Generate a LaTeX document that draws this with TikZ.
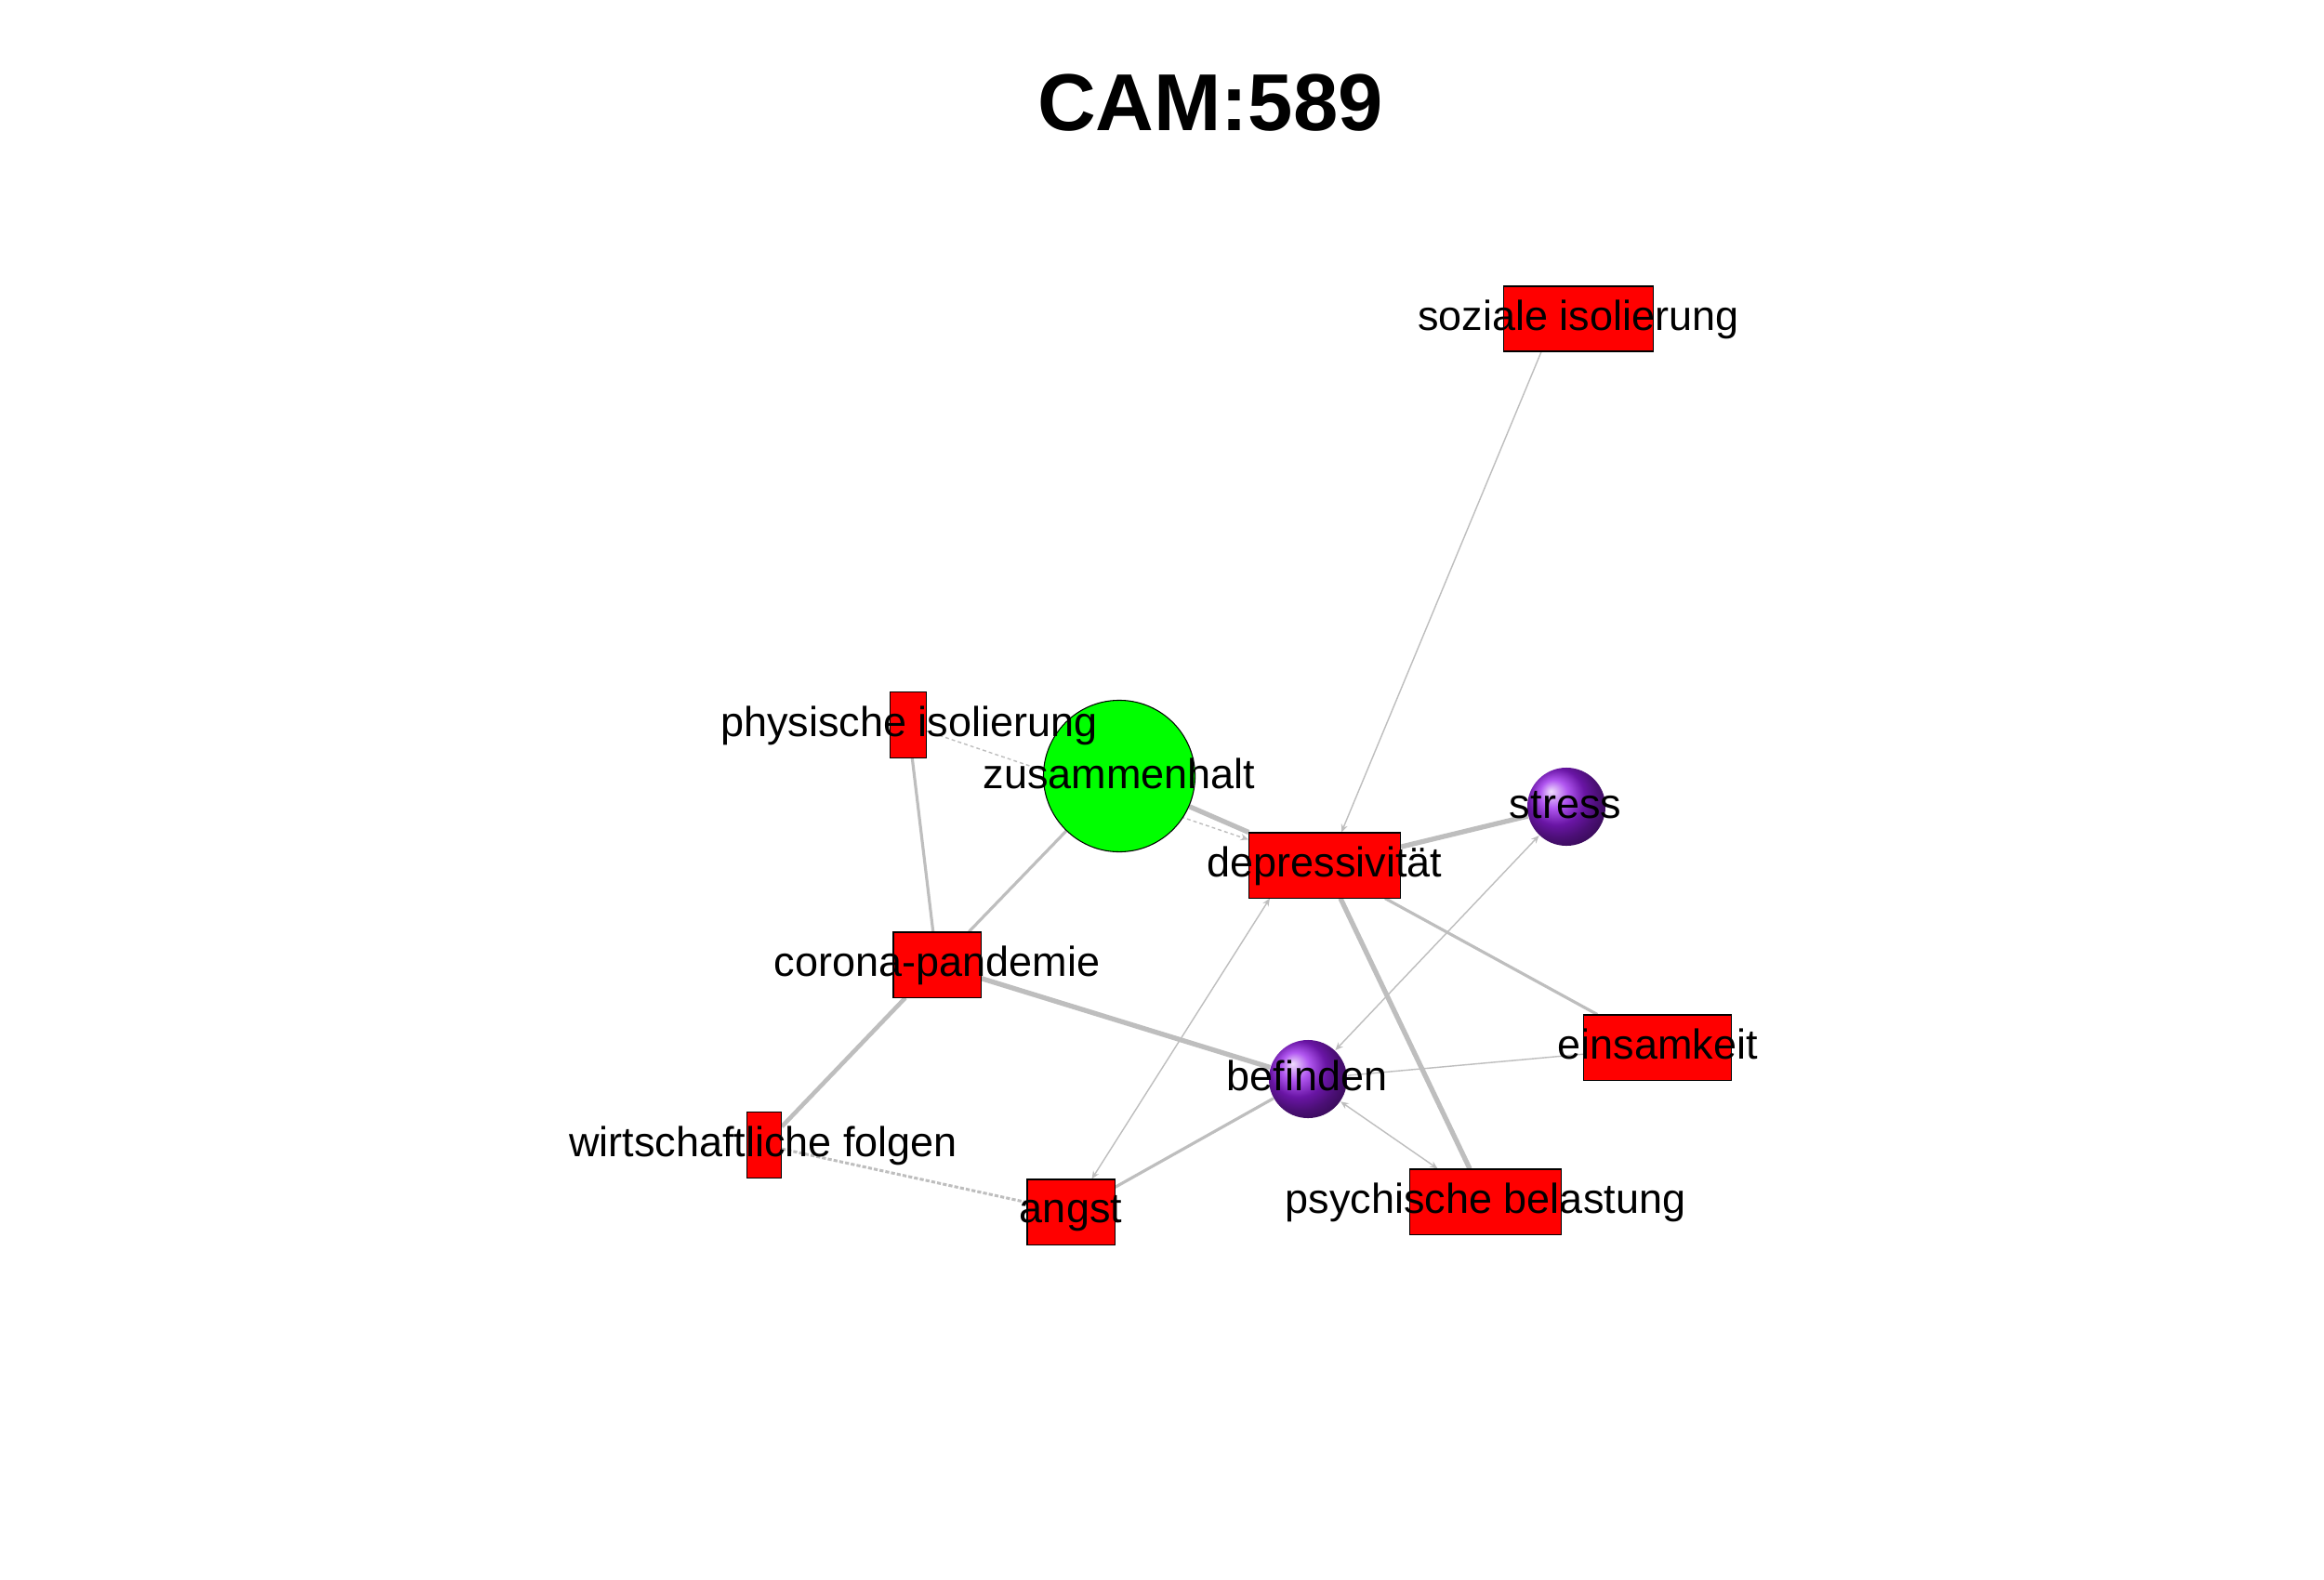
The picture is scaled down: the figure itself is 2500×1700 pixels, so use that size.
\documentclass[tikz,border=0pt]{standalone}
\usepackage{fontspec}
\setmainfont{Liberation Sans}
\usetikzlibrary{arrows.meta,backgrounds}
\definecolor{edgegray}{RGB}{190,190,190}
\definecolor{spherepurple}{RGB}{150,30,235}
\definecolor{boxred}{RGB}{255,0,0}
\definecolor{zusgreen}{RGB}{0,255,0}
\begin{document}
\begin{tikzpicture}[x=0.01cm,y=-0.01cm,
  redbox/.style={rectangle,draw=black,line width=0.3pt,fill=boxred,inner sep=0pt,minimum height=0.70cm},
  greenball/.style={circle,draw=black,line width=0.3pt,fill=zusgreen,inner sep=0pt,minimum size=1.63cm},
  sphere/.style={circle,inner sep=0pt,minimum size=0.84cm,shading=ball,ball color=spherepurple},
  lbl/.style={anchor=base,inner sep=0pt,font=\fontsize{12.8}{15}\selectfont},
  ethick/.style={draw=edgegray,line width=1.5pt},
  ewire/.style={draw=edgegray,line width=1.3pt},
  emed/.style={draw=edgegray,line width=0.9pt},
  ethin/.style={draw=edgegray,line width=0.4pt},
  edash/.style={draw=edgegray,line width=0.4pt,dash pattern=on 1.1pt off 0.9pt},
  edashmed/.style={draw=edgegray,line width=0.85pt,dash pattern=on 1.2pt off 0.6pt},
  tipend/.style={-{Stealth[length=2.4pt,width=2pt]}},
  tipboth/.style={{Stealth[length=2.4pt,width=2pt]}-{Stealth[length=2.4pt,width=2pt]}}
]
\useasboundingbox (0,0) rectangle (2500,1700);

\node[font=\bfseries\fontsize{24.7}{30}\selectfont,anchor=base,inner sep=0pt] (title) at (1302,140) {CAM:589};

% vertices
\node[redbox,minimum width=1.61cm] (soz) at (1698,343) {};
\node[redbox,minimum width=0.39cm,minimum height=0.71cm] (phys) at (977,780) {};
\node[greenball] (zus) at (1204,835) {};
\node[sphere] (stress) at (1685,868) {};
\node[redbox,minimum width=1.63cm] (dep) at (1425,931) {};
\node[redbox,minimum width=0.94cm] (corona) at (1008,1038) {};
\node[sphere] (bef) at (1407,1161) {};
\node[redbox,minimum width=1.59cm] (einsam) at (1783,1127) {};
\node[redbox,minimum width=0.37cm,minimum height=0.71cm] (wirt) at (822,1232) {};
\node[redbox,minimum width=0.94cm] (angst) at (1152,1304) {};
\node[redbox,minimum width=1.63cm] (psych) at (1598,1293) {};

% edges
\begin{pgfonlayer}{background}
\fill[white] (0,0) rectangle (2500,1700);
\draw[ethin,tipend] ([xshift=-0.40cm]soz.south) -- ([xshift=0.18cm]dep.north);
\draw[edash,tipend] (phys) -- (dep);
\draw[ethick] (zus) -- (dep);
\draw[ethick] (dep) -- (stress);
\draw[emed] (phys) -- (corona);
\draw[emed] (zus) -- (corona);
\draw[ethick] (corona) -- (bef);
\draw[ewire] (corona) -- (wirt);
\draw[edashmed] (wirt) -- (angst);
\draw[ethin,tipboth] (angst) -- ([xshift=-0.59cm]dep.south);
\draw[emed] (angst) -- (bef);
\draw[ethin,tipboth] (stress) -- (bef);
\draw[ethin] (bef) -- (einsam);
\draw[ethin,tipboth] (bef) -- (psych);
\draw[emed] (dep) -- (einsam);
\draw[ethick] (dep) -- (psych);
\end{pgfonlayer}

% labels
\node[lbl] (soz-l) at (1698,355) {soziale isolierung};
\node[lbl] (phys-l) at (978,792) {physische isolierung};
\node[lbl] (zus-l) at (1204,848) {zusammenhalt};
\node[lbl] (stress-l) at (1684,880) {stress};
\node[lbl] (dep-l) at (1425,943) {depressivität};
\node[lbl] (corona-l) at (1008,1050) {corona-pandemie};
\node[lbl] (bef-l) at (1406,1173) {befinden};
\node[lbl] (einsam-l) at (1783,1139) {einsamkeit};
\node[lbl] (wirt-l) at (821,1244) {wirtschaftliche folgen};
\node[lbl] (angst-l) at (1152,1315) {angst};
\node[lbl] (psych-l) at (1598,1305) {psychische belastung};
\end{tikzpicture}
\end{document}
